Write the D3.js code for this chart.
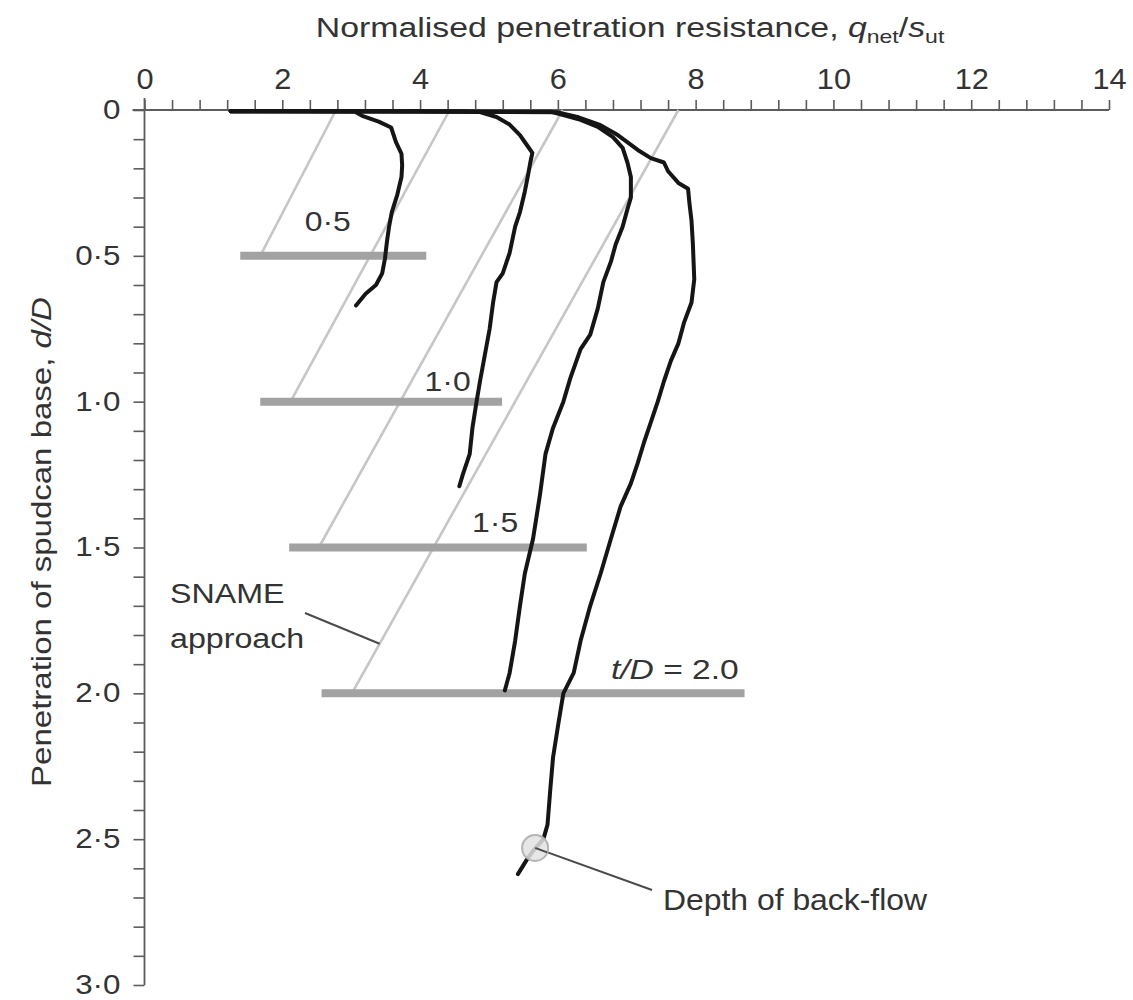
<!DOCTYPE html>
<html>
<head>
<meta charset="utf-8">
<script src="https://cdn.jsdelivr.net/npm/d3@7"></script>
<style>
  body { margin: 0; background: #fff; }
  svg { display: block; font-family: "Liberation Sans", Arial, Helvetica, sans-serif; }
</style>
</head>
<body>
<svg id="chart" width="1133" height="1000"></svg>
<script>
// Spudcan penetration tests: normalised resistance q_net/s_ut vs depth d/D,
// one test per layer thickness t/D, with the SNAME design lines.

// Layer thickness ratios t/D
const layerRatios = [0.5, 1.0, 1.5, 2.0];
const layerLabels = ["0·5", "1·0", "1·5", "2.0"];

// Measured profiles, [q_net/s_ut, d/D]
const testT05 = [
  [1.25, 0.004], [2.2, 0.004], [3.05, 0.005], [3.16, 0.02], [3.40, 0.04], [3.58, 0.06],
  [3.65, 0.11], [3.73, 0.15], [3.74, 0.19], [3.73, 0.23], [3.67, 0.29], [3.59, 0.35],
  [3.55, 0.40], [3.52, 0.45], [3.49, 0.51], [3.45, 0.56], [3.36, 0.60], [3.21, 0.63],
  [3.07, 0.67]
];
const testT10 = [
  [1.25, 0.004], [3.0, 0.004], [4.6, 0.005], [4.87, 0.007], [5.11, 0.024], [5.30, 0.05],
  [5.45, 0.086], [5.55, 0.12], [5.63, 0.147], [5.60, 0.18], [5.57, 0.22], [5.52, 0.28],
  [5.45, 0.35], [5.38, 0.40], [5.30, 0.49], [5.20, 0.56], [5.11, 0.59], [5.06, 0.66],
  [5.01, 0.75], [4.94, 0.84], [4.87, 0.93], [4.82, 1.00], [4.76, 1.09], [4.72, 1.18],
  [4.62, 1.25], [4.57, 1.29]
];
const testT15 = [
  [1.25, 0.004], [4.0, 0.005], [5.9, 0.006], [6.08, 0.017], [6.33, 0.034], [6.58, 0.058],
  [6.80, 0.093], [6.94, 0.13], [7.01, 0.18], [7.06, 0.23], [7.06, 0.30], [7.01, 0.34],
  [6.94, 0.40], [6.84, 0.46], [6.77, 0.52], [6.66, 0.59], [6.58, 0.68], [6.47, 0.77],
  [6.33, 0.82], [6.18, 0.92], [6.08, 1.00], [5.93, 1.09], [5.82, 1.18], [5.74, 1.32],
  [5.64, 1.47], [5.52, 1.59], [5.45, 1.70], [5.38, 1.82], [5.30, 1.93], [5.23, 1.99]
];
const testT20 = [
  [1.25, 0.004], [4.0, 0.005], [6.0, 0.008], [6.3, 0.025], [6.6, 0.05], [6.87, 0.086],
  [7.16, 0.137], [7.35, 0.165], [7.54, 0.18], [7.60, 0.21], [7.75, 0.25], [7.89, 0.27],
  [7.91, 0.32], [7.94, 0.38], [7.96, 0.46], [7.98, 0.58], [7.94, 0.66], [7.83, 0.73],
  [7.75, 0.80], [7.64, 0.86], [7.54, 0.93], [7.45, 1.00], [7.35, 1.07], [7.25, 1.14],
  [7.16, 1.21], [7.06, 1.28], [6.91, 1.36], [6.77, 1.47], [6.62, 1.59], [6.47, 1.70],
  [6.33, 1.82], [6.23, 1.93], [6.08, 2.00], [6.01, 2.10], [5.93, 2.22], [5.89, 2.33],
  [5.85, 2.45], [5.79, 2.50], [5.64, 2.54], [5.55, 2.57], [5.42, 2.62]
];
const testProfiles = [testT05, testT10, testT15, testT20];

// SNAME design lines: resistance at the surface and at the layer base (d/D = t/D)
const snameTop = [2.78, 4.43, 6.07, 7.75];
const snameBase = [1.68, 2.12, 2.53, 3.01];

// Horizontal markers at each layer base: extent in q_net/s_ut
const layerBarStart = [1.39, 1.68, 2.10, 2.57];
const layerBarEnd = [4.09, 5.19, 6.42, 8.71];

// Observed depth of back-flow in the t/D = 2.0 test
const backflowPoint = [5.67, 2.53];

// Axis ticks
const xMinorTicks = d3.range(0, 14.0001, 0.4).map(v => +v.toFixed(1));
const xTickLabels = [0, 2, 4, 6, 8, 10, 12, 14];
const yMinorTicks = d3.range(0, 3.0001, 0.1).map(v => +v.toFixed(1));
const yTickLabels = { 0: "0", 0.5: "0·5", 1: "1·0", 1.5: "1·5", 2: "2·0", 2.5: "2·5", 3: "3·0" };

// ---------------------------------------------------------------------------
const svg = d3.select("#chart");
const x = d3.scaleLinear().domain([0, 14]).range([144.5, 1109]);
const y = d3.scaleLinear().domain([0, 3]).range([110, 985]);

const AXIS = "#5c5c5c";
const TEXT = "#333333";

// Text with a horizontal stretch factor (the typeface is wider than Liberation Sans)
function stretchedText(parent, parts, px, py, opts) {
  const o = Object.assign({ size: 28, anchor: "start", sx: 1, rotate: 0 }, opts);
  const t = parent.append("text")
    .attr("transform", `translate(${px},${py})` + (o.rotate ? ` rotate(${o.rotate})` : "") + ` scale(${o.sx},1)`)
    .attr("text-anchor", o.anchor)
    .attr("font-size", o.size)
    .attr("fill", TEXT);
  parts.forEach(p => {
    const s = t.append("tspan").text(p.text);
    if (p.italic) s.attr("font-style", "italic");
    if (p.sub) s.attr("font-size", o.size * 0.68).attr("dy", o.size * 0.22);
    if (p.up) s.attr("dy", -o.size * 0.22);
  });
  return t;
}

// Fit a text element to a target length along its own direction
function fitWidth(t, width) {
  const w = t.node().getComputedTextLength();
  const tr = t.attr("transform").replace(/scale\([^)]*\)/, `scale(${width / w},1)`);
  t.attr("transform", tr);
}

// Title
const title = stretchedText(svg, [
  { text: "Normalised penetration resistance, " },
  { text: "q", italic: true },
  { text: "net", sub: true },
  { text: "/", up: true },
  { text: "s", italic: true },
  { text: "ut", sub: true }
], 630, 37, { anchor: "middle", size: 28 });
fitWidth(title, 629);

// Y-axis title
const yTitle = stretchedText(svg, [
  { text: "Penetration of spudcan base, " },
  { text: "d/D", italic: true }
], 51, 542, { anchor: "middle", size: 28, rotate: -90 });
fitWidth(yTitle, 490);

// X axis (along the top)
const xAxis = svg.append("g").attr("transform", `translate(0,${y(0)})`)
  .call(d3.axisTop(x).tickValues(xMinorTicks).tickSize(10).tickSizeOuter(0).tickPadding(11)
    .tickFormat(v => xTickLabels.includes(v) ? String(v) : ""));
xAxis.select(".domain").attr("stroke", AXIS).attr("stroke-width", 1.8)
  .attr("d", `M${x(0) - 12},0H${x(14)}`);
xAxis.selectAll(".tick line").attr("stroke", AXIS).attr("stroke-width", 1.6);
xAxis.selectAll(".tick text")
  .attr("font-family", "'Liberation Sans', Arial, sans-serif")
  .attr("font-size", 29).attr("fill", TEXT)
  .attr("transform", "scale(1.06,1)");

// Y axis
const yAxis = svg.append("g").attr("transform", `translate(${x(0)},0)`)
  .call(d3.axisLeft(y).tickValues(yMinorTicks).tickSize(11).tickSizeOuter(0).tickPadding(0)
    .tickFormat(v => yTickLabels[v] !== undefined ? yTickLabels[v] : ""));
yAxis.select(".domain").attr("stroke", AXIS).attr("stroke-width", 1.8)
  .attr("d", `M0,${y(0) - 12}V${y(3)}`);
yAxis.selectAll(".tick line").attr("stroke", AXIS).attr("stroke-width", 1.6);
yAxis.selectAll(".tick text")
  .attr("font-family", "'Liberation Sans', Arial, sans-serif")
  .attr("font-size", 28).attr("fill", TEXT)
  .attr("x", 0).attr("dy", "0.3em")
  .attr("transform", "translate(-24,0) scale(1.12,1)");

const plot = svg.append("g");

// SNAME design lines
plot.selectAll("line.sname").data(layerRatios).join("line")
  .attr("class", "sname")
  .attr("x1", (t, i) => x(snameTop[i])).attr("y1", y(0))
  .attr("x2", (t, i) => x(snameBase[i])).attr("y2", t => y(t))
  .attr("stroke", "#c6c6c6").attr("stroke-width", 2.6);

// Layer-base markers
plot.selectAll("line.layer").data(layerRatios).join("line")
  .attr("class", "layer")
  .attr("x1", (t, i) => x(layerBarStart[i])).attr("x2", (t, i) => x(layerBarEnd[i]))
  .attr("y1", t => y(t)).attr("y2", t => y(t))
  .attr("stroke", "#a2a2a2").attr("stroke-width", 8);

// Measured profiles
const line = d3.line().x(p => x(p[0])).y(p => y(p[1]));
plot.selectAll("path.profile").data(testProfiles).join("path")
  .attr("class", "profile")
  .attr("d", line)
  .attr("fill", "none").attr("stroke", "#151515").attr("stroke-width", 4)
  .attr("stroke-linejoin", "round").attr("stroke-linecap", "round");

// Layer-thickness labels, placed just above each marker
const labelLayout = [
  { dx: 2.66, dy: -25, anchor: "middle" },
  { dx: 4.40, dy: -11, anchor: "middle" },
  { dx: 5.09, dy: -16, anchor: "middle" },
  { dx: 6.77, dy: -14, anchor: "start" }
];
layerRatios.forEach((t, i) => {
  const L = labelLayout[i];
  const parts = i === 3
    ? [{ text: "t/D", italic: true }, { text: " = " + layerLabels[i] }]
    : [{ text: layerLabels[i] }];
  stretchedText(plot, parts, x(L.dx), y(t) + L.dy, { anchor: L.anchor, size: 28, sx: i === 3 ? 1.2 : 1.14 });
});

// SNAME annotation
stretchedText(plot, [{ text: "SNAME" }], 170, 603, { size: 28, sx: 1.15 });
stretchedText(plot, [{ text: "approach" }], 170, 648, { size: 28, sx: 1.15 });
const leaderDepth = 1.83;
const leaderQ = snameTop[3] + (snameBase[3] - snameTop[3]) * leaderDepth / layerRatios[3];
plot.append("line")
  .attr("x1", 305).attr("y1", 613)
  .attr("x2", x(leaderQ)).attr("y2", y(leaderDepth))
  .attr("stroke", "#4a4a4a").attr("stroke-width", 2);

// Back-flow marker and annotation
const bx = x(backflowPoint[0]), by = y(backflowPoint[1]);
plot.append("line")
  .attr("x1", bx).attr("y1", by).attr("x2", 652).attr("y2", 890)
  .attr("stroke", "#4a4a4a").attr("stroke-width", 2);
plot.append("circle")
  .attr("cx", bx).attr("cy", by).attr("r", 13)
  .attr("fill", "#e2e2e2").attr("fill-opacity", 0.85)
  .attr("stroke", "#b4b4b4").attr("stroke-width", 2);
plot.append("line")
  .attr("x1", bx).attr("y1", by).attr("x2", bx + 12).attr("y2", by + 4.4)
  .attr("stroke", "#4a4a4a").attr("stroke-width", 2);
stretchedText(plot, [{ text: "Depth of back-flow" }], 663, 910, { size: 29, sx: 1.1 });
</script>
</body>
</html>
